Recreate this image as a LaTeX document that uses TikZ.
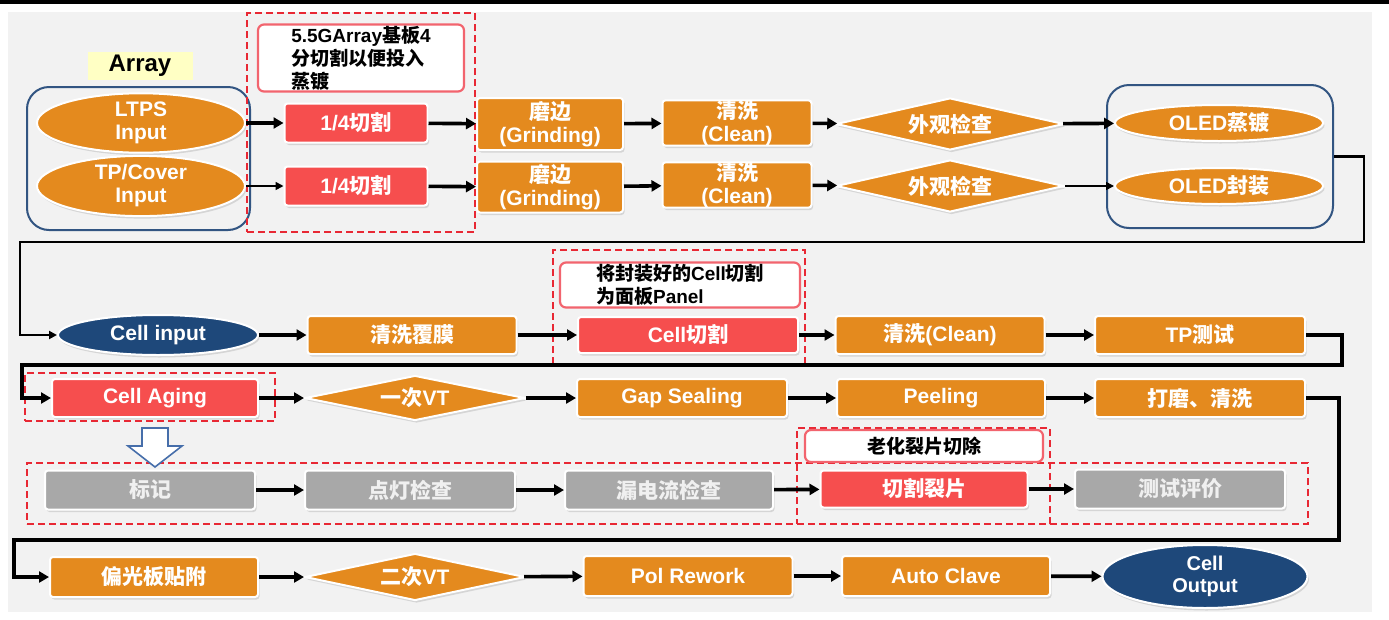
\documentclass[tikz,border=0pt]{standalone}
\usepackage{fontspec}
\setmainfont{Liberation Sans}
\newfontfamily\cjk{Noto Sans CJK SC}
\usetikzlibrary{shapes.geometric,arrows.meta,shadows}
\definecolor{orangeC}{RGB}{228,138,30}
\definecolor{redC}{RGB}{246,78,78}
\definecolor{greyC}{RGB}{168,168,168}
\definecolor{navyC}{RGB}{30,72,122}
\definecolor{grpblue}{RGB}{50,85,130}
\definecolor{dashred}{RGB}{232,40,52}
\definecolor{notered}{RGB}{242,100,110}
\definecolor{panelC}{RGB}{242,242,242}
\definecolor{yellowC}{RGB}{255,255,196}
\definecolor{hollowC}{RGB}{70,110,170}
\begin{document}
\begin{tikzpicture}[x=1pt,y=-1pt,
  txt/.style={font=\bfseries\fontsize{21}{23}\selectfont, text=white, align=center},
  shad/.style={drop shadow={shadow xshift=1.5pt,shadow yshift=-2.5pt,opacity=0.25}},
  box/.style={rectangle, rounded corners=3pt, draw=white, line width=2pt, inner sep=0pt, txt, shad},
  ob/.style={box, fill=orangeC},
  rb/.style={box, fill=redC},
  gb/.style={box, fill=greyC, text=white!88!gray},
  ell/.style={ellipse, draw=white, line width=2pt, inner sep=0pt, txt, shad, fill=orangeC},
  nell/.style={ell, fill=navyC},
  dia/.style={diamond, draw=white, line width=2pt, inner sep=0pt, txt, shad, fill=orangeC},
  dgrp/.style={rectangle, draw=dashred, line width=2.2pt, dash pattern=on 7pt off 4pt, inner sep=0pt},
  bgrp/.style={rectangle, rounded corners=22pt, draw=grpblue, line width=2pt, inner sep=0pt},
  note/.style={rectangle, rounded corners=6pt, draw=notered, line width=2.2pt, fill=white, inner sep=0pt, font=\bfseries\fontsize{19}{23}\selectfont, text=black, align=left},
  arr/.style={-{Triangle[length=10pt,width=11pt]}, line width=3.6pt},
  tarr/.style={-{Triangle[length=8pt,width=8pt]}, line width=1.6pt},
  conn/.style={-{Triangle[length=10pt,width=11pt]}, line width=3.6pt},
]
\useasboundingbox (0,0) rectangle (1389,619);
\fill[white] (0,0) rectangle (1389,619);
\fill[black] (0,0) rectangle (1389,4);
\fill[panelC] (8,12) rectangle (1372,612);

% ---------- groups ----------
\node[bgrp, minimum width=223pt, minimum height=143pt] (agrp) at (138.5,158.5) {};
\node[bgrp, minimum width=226pt, minimum height=143pt] (ogrp) at (1220,156.5) {};
\node[dgrp, minimum width=228pt, minimum height=219pt] (g1) at (361,122.5) {};
\node[dgrp, minimum width=252pt, minimum height=115pt] (g2) at (679,307.5) {};
\node[dgrp, minimum width=250pt, minimum height=48pt] (g3) at (150,397) {};
\node[dgrp, minimum width=1281pt, minimum height=61pt] (g4) at (667.5,493.5) {};
\node[dgrp, minimum width=253pt, minimum height=96pt] (g5) at (923.5,476) {};

% ---------- row 1 ----------
\node[fill=yellowC, minimum width=105pt, minimum height=28pt, inner sep=0pt,
      font=\bfseries\fontsize{24}{26}\selectfont] (alabel) at (140,66) {Array};
\node[note, minimum width=206pt, minimum height=67pt] (note1) at (361,58)
  {5.5GArray{\cjk 基板}4\\{\cjk 分切割以便投入}\\{\cjk 蒸镀}};
\node[ell, minimum width=208pt, minimum height=50pt] (ltps) at (141,123) {LTPS\\Input};
\node[ell, minimum width=208pt, minimum height=50pt] (tpc) at (141,186) {TP/Cover\\Input};
\node[rb, minimum width=143pt, minimum height=39pt] (cut1) at (356,123) {1/4{\cjk 切割}};
\node[rb, minimum width=143pt, minimum height=39pt] (cut2) at (356,186) {1/4{\cjk 切割}};
\node[ob, minimum width=146pt, minimum height=52pt] (grd1) at (550,124) {{\cjk 磨边}\\(Grinding)};
\node[ob, minimum width=146pt, minimum height=51pt] (grd2) at (550,187) {{\cjk 磨边}\\(Grinding)};
\node[ob, minimum width=149pt, minimum height=40pt] (cln1) at (737,123) {{\cjk 清洗}\\(Clean)};
\node[ob, minimum width=149pt, minimum height=38pt] (cln2) at (737,185) {{\cjk 清洗}\\(Clean)};
\node[dia, aspect=4.38, minimum width=228pt, minimum height=52pt] (chk1) at (950,124) {\cjk 外观检查};
\node[dia, aspect=4.38, minimum width=228pt, minimum height=52pt] (chk2) at (950,186) {\cjk 外观检查};
\node[ell, minimum width=208pt, minimum height=36pt] (evap) at (1219,123) {OLED{\cjk 蒸镀}};
\node[ell, minimum width=208pt, minimum height=36pt] (encap) at (1219,186) {OLED{\cjk 封装}};

\draw[arr] (ltps) -- (cut1);
\draw[tarr] (tpc) -- (cut2);
\draw[arr] (cut1) -- (grd1);
\draw[arr] (cut2) -- (grd2);
\draw[arr] (grd1) -- (cln1);
\draw[arr] (grd2) -- (cln2);
\draw[arr] (cln1) -- (chk1);
\draw[arr] (cln2) -- (chk2);
\draw[arr] (chk1) -- (evap);
\draw[tarr] (chk2) -- (encap);

% ---------- row 2 ----------
\node[nell, minimum width=200pt, minimum height=40pt] (cellin) at (158,335) {Cell input};
\node[ob, minimum width=209pt, minimum height=38pt] (coat) at (412,335) {\cjk 清洗覆膜};
\node[note, minimum width=240pt, minimum height=45pt] (note2) at (680,285)
  {{\cjk 将封装好的}Cell{\cjk 切割}\\{\cjk 为面板}Panel};
\node[rb, minimum width=220pt, minimum height=36pt] (cellcut) at (688,335) {Cell{\cjk 切割}};
\node[ob, minimum width=209pt, minimum height=38pt] (cln3) at (940,335) {{\cjk 清洗}(Clean)};
\node[ob, minimum width=210pt, minimum height=38pt] (tptest) at (1200,335) {TP{\cjk 测试}};

\coordinate (r1) at (1364,242);
\coordinate (l1) at (20,242);
\draw[-{Triangle[length=8pt,width=8pt]}, line width=2.4pt] (ogrp.east) -| (r1) -- (l1) |- (cellin.west);
\draw[arr] (cellin) -- (coat);
\draw[arr] (coat) -- (cellcut);
\draw[arr] (cellcut) -- (cln3);
\draw[arr] (cln3) -- (tptest);

% ---------- row 3 ----------
\node[rb, minimum width=206pt, minimum height=38pt] (aging) at (155,398) {Cell Aging};
\node[dia, aspect=4.9, minimum width=220pt, minimum height=45pt] (vt1) at (415,398) {{\cjk 一次}VT};
\node[ob, minimum width=210pt, minimum height=38pt] (gap) at (682,398) {Gap Sealing};
\node[ob, minimum width=208pt, minimum height=38pt] (peel) at (941,398) {Peeling};
\node[ob, minimum width=210pt, minimum height=38pt] (polish) at (1200,398) {\cjk 打磨、清洗};

\coordinate (r2) at (1342,365);
\coordinate (l2) at (22,365);
\draw[conn] (tptest.east) -| (r2) -- (l2) |- (aging.west);
\draw[arr] (aging) -- (vt1);
\draw[arr] (vt1) -- (gap);
\draw[arr] (gap) -- (peel);
\draw[arr] (peel) -- (polish);

% hollow down arrow
\draw[hollowC, fill=white, line width=1.6pt, line join=miter]
  (142,428) -- (168,428) -- (168,446) -- (182,446) -- (155,467) -- (128,446) -- (142,446) -- cycle;

% ---------- row 4 ----------
\node[note, minimum width=238pt, minimum height=32pt, align=center] (note3) at (924,446) {\cjk 老化裂片切除};
\node[gb, minimum width=210pt, minimum height=39pt] (tag) at (150,490) {\cjk 标记};
\node[gb, minimum width=210pt, minimum height=39pt] (light) at (410,490) {\cjk 点灯检查};
\node[gb, minimum width=208pt, minimum height=39pt] (leak) at (669,490) {\cjk 漏电流检查};
\node[rb, minimum width=207pt, minimum height=37pt] (crack) at (924,489) {\cjk 切割裂片};
\node[gb, minimum width=210pt, minimum height=39pt] (evalu) at (1180,489) {\cjk 测试评价};
\draw[arr] (tag) -- (light);
\draw[arr] (light) -- (leak);
\draw[arr] (leak) -- (crack);
\draw[arr] (crack) -- (evalu);

% ---------- row 5 ----------
\node[ob, minimum width=208pt, minimum height=40pt] (polar) at (154,577) {\cjk 偏光板贴附};
\node[dia, aspect=4.7, minimum width=220pt, minimum height=47pt] (vt2) at (415,577) {{\cjk 二次}VT};
\node[ob, minimum width=209pt, minimum height=40pt] (polrw) at (688,576) {Pol Rework};
\node[ob, minimum width=208pt, minimum height=40pt] (autoc) at (946,576) {Auto Clave};
\node[nell, minimum width=205pt, minimum height=63pt, font=\bfseries\fontsize{20}{22}\selectfont] (cellout) at (1205,576.5) {Cell\\Output};

\coordinate (r3) at (1339,540);
\coordinate (l3) at (14,540);
\draw[conn] (polish.east) -| (r3) -- (l3) |- (polar.west);
\draw[arr] (polar) -- (vt2);
\draw[arr] (vt2) -- (polrw);
\draw[arr] (polrw) -- (autoc);
\draw[arr] (autoc) -- (cellout);
\end{tikzpicture}
\end{document}
